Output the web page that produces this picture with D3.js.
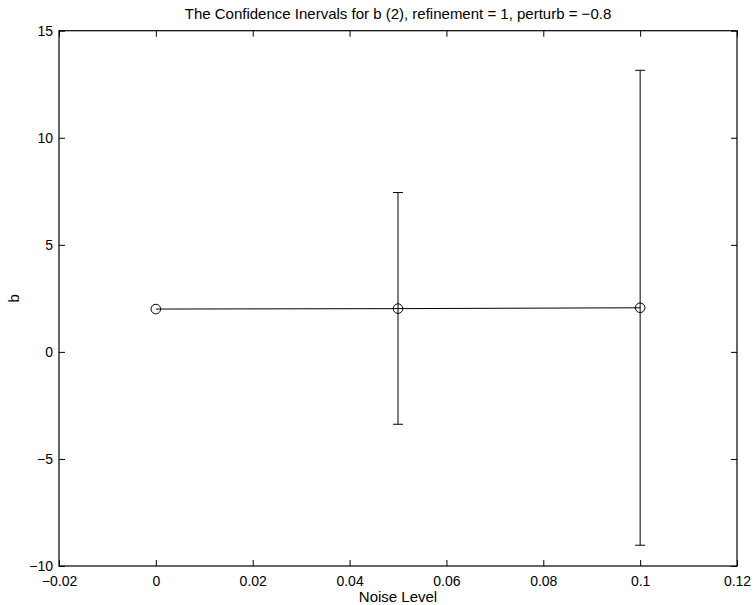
<!DOCTYPE html>
<html>
<head>
<meta charset="utf-8">
<script src="https://cdn.jsdelivr.net/npm/d3@7"></script>
<style>
  html, body { margin: 0; padding: 0; background: #fff; }
  svg text { font-family: "Liberation Sans", Arial, Helvetica, sans-serif; fill: #000; }
</style>
</head>
<body>
<svg id="chart" width="755" height="605"></svg>
<script>
// Noise levels and estimated b with confidence interval bounds
const noiseLevels = [0, 0.05, 0.1];
const bEstimates  = [2.0, 2.02, 2.06];
const bLower      = [2.0, -3.38, -9.03];
const bUpper      = [2.0, 7.44, 13.15];
const showBar     = [false, true, true];

const xTicks = [-0.02, 0, 0.02, 0.04, 0.06, 0.08, 0.1, 0.12];
const yTicks = [-10, -5, 0, 5, 10, 15];

const titleText = "The Confidence Inervals for b (2), refinement = 1, perturb = \u22120.8";

const svg = d3.select("#chart");
const m = { left: 59, right: 737, top: 30.7, bottom: 566 };

const x = d3.scaleLinear().domain([-0.02, 0.12]).range([m.left, m.right]);
const y = d3.scaleLinear().domain([-10, 15]).range([m.bottom, m.top]);

const fmt = v => {
  const s = d3.format("~g")(+v.toFixed(4));
  return s.replace("-", "\u2212");
};

// Axes with inward ticks on all four sides
const tickLen = 6;
const bottomAxis = d3.axisBottom(x).tickValues(xTicks).tickSizeInner(-tickLen).tickSizeOuter(0).tickPadding(10).tickFormat(fmt);
const topAxis = d3.axisTop(x).tickValues(xTicks).tickSizeInner(-tickLen).tickSizeOuter(0).tickFormat("");
const leftAxis = d3.axisLeft(y).tickValues(yTicks).tickSizeInner(-tickLen).tickSizeOuter(0).tickPadding(6).tickFormat(fmt);
const rightAxis = d3.axisRight(y).tickValues(yTicks).tickSizeInner(-tickLen).tickSizeOuter(0).tickFormat("");

function styleAxis(g) {
  g.select(".domain").remove();
  g.selectAll("line").attr("stroke", "#000").attr("stroke-width", 1);
  g.selectAll("text").attr("font-size", 14).attr("font-family", "Liberation Sans, Arial, sans-serif").attr("fill", "#000");
}

svg.append("g").attr("transform", `translate(0,${m.bottom})`).call(bottomAxis).call(styleAxis);
svg.append("g").attr("transform", `translate(0,${m.top})`).call(topAxis).call(styleAxis);
svg.append("g").attr("transform", `translate(${m.left},0)`).call(leftAxis).call(styleAxis);
svg.append("g").attr("transform", `translate(${m.right},0)`).call(rightAxis).call(styleAxis);

// Frame
svg.append("rect")
  .attr("x", m.left).attr("y", m.top)
  .attr("width", m.right - m.left).attr("height", m.bottom - m.top)
  .attr("fill", "none").attr("stroke", "#000").attr("stroke-width", 1.2);

const data = noiseLevels.map((n, i) => ({ n, b: bEstimates[i], lo: bLower[i], hi: bUpper[i], bar: showBar[i] }));

// Error bars
const capHalf = 5;
const bars = svg.append("g").selectAll("g").data(data.filter(d => d.bar)).join("g");
bars.append("line")
  .attr("x1", d => x(d.n)).attr("x2", d => x(d.n))
  .attr("y1", d => y(d.lo)).attr("y2", d => y(d.hi))
  .attr("stroke", "#000").attr("stroke-width", 1);
bars.append("line")
  .attr("x1", d => x(d.n) - capHalf).attr("x2", d => x(d.n) + capHalf)
  .attr("y1", d => y(d.hi)).attr("y2", d => y(d.hi))
  .attr("stroke", "#000").attr("stroke-width", 1);
bars.append("line")
  .attr("x1", d => x(d.n) - capHalf).attr("x2", d => x(d.n) + capHalf)
  .attr("y1", d => y(d.lo)).attr("y2", d => y(d.lo))
  .attr("stroke", "#000").attr("stroke-width", 1);

// Connecting line
svg.append("path")
  .datum(data)
  .attr("d", d3.line().x(d => x(d.n)).y(d => y(d.b)))
  .attr("fill", "none").attr("stroke", "#000").attr("stroke-width", 1);

// Circle markers
svg.append("g").selectAll("circle").data(data).join("circle")
  .attr("cx", d => x(d.n)).attr("cy", d => y(d.b)).attr("r", 4.8)
  .attr("fill", "none").attr("stroke", "#000").attr("stroke-width", 1);

// Title and axis labels
svg.append("text")
  .attr("x", (m.left + m.right) / 2).attr("y", 19)
  .attr("text-anchor", "middle").attr("font-size", 15)
  .text(titleText);

svg.append("text")
  .attr("x", (m.left + m.right) / 2).attr("y", 602)
  .attr("text-anchor", "middle").attr("font-size", 15)
  .text("Noise Level");

svg.append("text")
  .attr("transform", `translate(19,${(m.top + m.bottom) / 2}) rotate(-90)`)
  .attr("text-anchor", "middle").attr("font-size", 15)
  .text("b");
</script>
</body>
</html>
